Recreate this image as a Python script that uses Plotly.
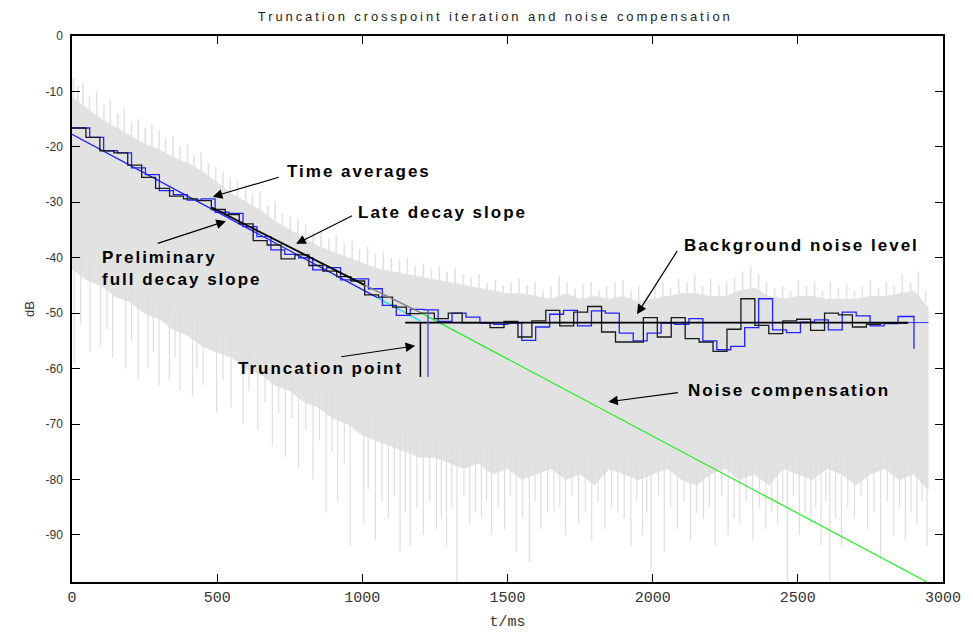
import plotly.graph_objects as go

# ---------------- data ----------------
# light-grey raw decay signal: dense body on a 50 ms grid
noise_t = [0, 50, 100, 150, 200, 250, 300, 350, 400, 450,
           500, 550, 600, 650, 700, 750, 800, 850, 900, 950,
           1000, 1050, 1100, 1150, 1200, 1250, 1300, 1350, 1400, 1450,
           1500, 1550, 1600, 1650, 1700, 1750, 1800, 1850, 1900, 1950,
           2000, 2050, 2100, 2150, 2200, 2250, 2300, 2350, 2400, 2450,
           2500, 2550, 2600, 2650, 2700, 2750, 2800, 2850, 2900, 2950]
noise_top_db = [-11, -13, -15, -16.5, -18, -19.5, -20.5, -22, -23, -24.5,
                -26.5, -28.5, -30, -31.5, -33.5, -35, -36.5, -38, -39, -40,
                -41, -42, -42.5, -43, -43.5, -44, -44.5, -45, -45.5, -46,
                -46.5, -46.5, -47, -47.5, -46.5, -47.5, -47, -47.5, -47, -48,
                -47.5, -47, -46.5, -46.5, -47, -47, -46, -45.5, -47, -47.5,
                -47, -47, -47.5, -47.5, -47.5, -47, -47, -46.5, -46, -49]
noise_bottom_db = [-42, -44, -45, -47, -48, -50, -51, -53, -54, -56,
                   -57, -58, -60, -61, -63, -64, -66, -67, -69, -70,
                   -72, -73, -74, -75, -76, -76, -77, -78, -77, -79,
                   -78, -80, -79, -78, -80, -79, -81, -78, -79, -80,
                   -79, -78, -80, -81, -79, -78, -80, -79, -81, -78,
                   -79, -80, -78, -79, -81, -79, -78, -80, -79, -82]
# upward peaks of the raw signal
peak_t = [5, 20, 38, 60, 85, 110, 132, 158, 180, 205, 228, 252, 275, 300, 322, 348, 372, 398,
          420, 445, 470, 495, 520, 545, 570, 598, 622, 648, 675, 700, 725, 752, 778, 805,
          830, 858, 885, 910, 938, 965, 990, 1018, 1045, 1072, 1100, 1128, 1155, 1182, 1210,
          1238, 1265, 1292, 1320, 1348, 1375, 1402, 1430, 1458, 1485, 1512, 1540, 1568, 1595,
          1622, 1650, 1678, 1705, 1732, 1760, 1788, 1815, 1842, 1870, 1898, 1925, 1952, 1980,
          2008, 2035, 2062, 2090, 2118, 2145, 2172, 2200, 2228, 2255, 2282, 2310, 2338, 2365,
          2392, 2420, 2448, 2475, 2502, 2530, 2558, 2585, 2612, 2640, 2668, 2695, 2722, 2750,
          2778, 2805, 2832, 2860, 2888, 2915, 2940]
peak_db = [-7.5, -9, -8.5, -11, -10, -12.5, -11.5, -14, -13, -15.5, -15, -16.5, -16, -17, -18.5,
           -18, -20, -19.5, -21.5, -21, -23, -23.5, -24.5, -25.5, -26, -27, -28.5, -28, -30.5,
           -30, -32, -32.5, -33, -34, -35.5, -35, -36.5, -36, -37.5, -37, -38.5, -38, -39.5,
           -39, -40, -40.5, -40, -41.5, -41, -42, -41.5, -42.5, -42, -43, -43.5, -43, -44.5,
           -44, -45, -44.5, -43.8, -45, -44.3, -46, -45.2, -43.4, -44.5, -45.5, -44.8, -44.3,
           -46, -45.2, -44.5, -44, -46, -45.2, -46.5, -45.2, -44.3, -45.5, -43.8, -44.5, -43,
           -45, -43.8, -45, -44.3, -43.5, -42.5, -41.6, -43, -44.3, -45.5, -45.2, -46, -44,
           -45, -44.3, -46, -44.3, -45.5, -44.8, -46, -45.2, -44, -45.5, -44.3, -45, -43,
           -44.5, -42.5, -46]
# deep downward dips of the raw signal
dip_t = [8, 30, 62, 98, 140, 185, 228, 262, 300, 335,
         372, 415, 452, 498, 548, 590, 640, 690, 735, 780,
         830, 875, 915, 958, 1005, 1045, 1090, 1130, 1165, 1210,
         1255, 1290, 1326, 1370, 1410, 1445, 1490, 1530, 1575, 1615,
         1660, 1700, 1745, 1790, 1835, 1880, 1925, 1965, 1995, 2040,
         2085, 2130, 2175, 2215, 2260, 2300, 2345, 2390, 2430, 2464,
         2505, 2545, 2580, 2610, 2650, 2695, 2740, 2785, 2830, 2870,
         2910, 2945]
dip_db = [-59, -52, -57, -56, -58, -60, -62, -60, -63, -62,
          -64, -65, -63, -68, -67, -70, -71, -74, -76, -78,
          -80, -86, -84, -92, -88, -91, -87, -93, -92, -90,
          -89, -92, -98.5, -88, -87, -90, -89, -93, -95, -89,
          -86, -90, -88, -91, -89, -86, -92, -90, -96, -93,
          -89, -91, -87, -92, -90, -88, -91, -89, -88, -98.5,
          -90, -88, -92, -98.5, -92, -87, -89, -94, -90, -91,
          -88, -92]
# shorter dips in between
dip2_t = [120, 205, 280, 355, 430, 520, 610, 665, 712, 758, 805, 852, 895, 938,
          1020, 1068, 1110, 1148, 1188, 1232, 1272, 1308, 1350, 1390,
          1428, 1468, 1510, 1552, 1595, 1638, 1680, 1722, 1768, 1812,
          1858, 1902, 1945, 1980, 2020, 2062, 2108, 2152, 2195, 2238,
          2280, 2322, 2368, 2410, 2448, 2485, 2525, 2562, 2596, 2630,
          2672, 2718, 2762, 2808, 2850, 2890, 2928]
dip2_db = [-53, -55, -57, -58, -60, -62, -64, -66, -68, -69, -71, -73, -75, -77,
           -82, -84, -83, -86, -85, -84, -87, -85, -83, -86,
           -84, -85, -83, -87, -84, -86, -85, -83, -86, -84,
           -85, -87, -84, -86, -83, -85, -84, -86, -85, -83,
           -87, -84, -85, -86, -84, -83, -86, -85, -84, -87,
           -85, -83, -86, -84, -85, -86, -84]

# time averages (black): bin edges [ms] and levels [dB]
black_edges = [0, 48, 96, 144, 192, 240, 288, 336, 384, 432,
               480, 528, 576, 624, 672, 720, 768, 816, 864, 912,
               960, 1008, 1056, 1104, 1152, 1200, 1248, 1296, 1344, 1392,
               1440, 1488, 1536, 1584, 1632, 1680, 1728, 1776, 1824, 1872,
               1920, 1968, 2016, 2064, 2112, 2160, 2208, 2256, 2304, 2352,
               2400, 2448, 2496, 2544, 2592, 2640, 2688, 2736, 2784, 2832, 2880]
black_db = [-16.6, -18.3, -20.7, -21.1, -23.3, -25.5, -27.5, -28.9, -29.4, -29.7,
            -31.3, -32.2, -33.9, -36.9, -37.7, -40.2, -39.5, -41.4, -42.4, -43.4,
            -44.2, -46.7, -47.1, -48.9, -50.1, -50.0, -51.0, -50.0, -51.7, -51.7,
            -52.6, -51.5, -54.3, -51.4, -49.5, -52.3, -49.8, -48.8, -53.4, -55.2,
            -55.2, -50.8, -54.3, -50.8, -54.6, -55.2, -56.9, -52.9, -47.4, -52.2,
            -53.7, -51.4, -51.1, -53.1, -50.0, -50.3, -52.5, -52.0, -51.8, -51.8]
# time averages (blue)
blue_edges = [0, 61, 109, 157, 205, 253, 301, 349, 397, 445,
              493, 541, 589, 637, 685, 733, 781, 829, 877, 925,
              973, 1021, 1069, 1117, 1165, 1213, 1261, 1309, 1357, 1405,
              1453, 1501, 1549, 1597, 1645, 1693, 1741, 1789, 1837, 1885,
              1933, 1981, 2029, 2077, 2125, 2173, 2221, 2269, 2317, 2365,
              2413, 2461, 2509, 2557, 2605, 2653, 2701, 2749, 2797, 2845, 2900]
blue_db = [-16.6, -18.3, -20.7, -21.1, -23.8, -25.0, -27.9, -28.6, -29.6, -29.4,
           -31.8, -32.0, -34.4, -36.2, -38.6, -39.4, -40.0, -42.2, -41.8, -44.0,
           -43.8, -45.6, -48.6, -50.4, -49.3, -49.4, -51.5, -50.0, -50.7, -51.8,
           -52.0, -51.8, -54.9, -52.5, -50.2, -49.5, -52.3, -49.6, -50.0, -53.6,
           -55.0, -53.6, -51.8, -52.0, -51.0, -55.0, -56.6, -56.0, -52.6, -47.4,
           -53.0, -53.5, -51.6, -51.2, -53.0, -49.8, -50.5, -52.3, -51.9, -50.6]
blue_end_drop_db = -56.4

# regression lines
prelim_t = [0, 1052, 1200]          # preliminary full decay slope (blue -> cyan)
prelim_db = [-17.75, -47.2, -51.4]
late_t = [482, 1007, 1200]          # late decay slope (black -> grey)
late_db = [-30.95, -44.9, -49.9]
comp_t = [1200, 2945]               # noise compensation (green)
comp_db = [-49.9, -98.5]

# background noise level and truncation point
noise_level_db = -51.7
noise_level_black_t = [1148, 2880]
noise_level_blue_t = [1148, 2950]
trunc_black_t = 1200
trunc_blue_t = 1226
trunc_blue_top_db = -49.4
trunc_bottom_db = -61.5

x_ticks = [0, 500, 1000, 1500, 2000, 2500, 3000]
y_ticks = [0, -10, -20, -30, -40, -50, -60, -70, -80, -90]

# ---------------- figure ----------------
GREY = "rgb(226,226,226)"
fig = go.Figure()

# grey raw signal: dense body
fig.add_trace(go.Scatter(x=noise_t, y=noise_top_db, mode="lines",
                         line=dict(color=GREY, width=1), hoverinfo="skip"))
fig.add_trace(go.Scatter(x=noise_t, y=noise_bottom_db, mode="lines",
                         line=dict(color=GREY, width=1),
                         fill="tonexty", fillcolor=GREY, hoverinfo="skip"))
# peaks and dips
px_, py_ = [], []
for t, d in zip(peak_t, peak_db):
    i = min(int(t // 50), len(noise_top_db) - 1)
    px_ += [t, t, None]
    py_ += [noise_top_db[i] - 2, d, None]
fig.add_trace(go.Scatter(x=px_, y=py_, mode="lines",
                         line=dict(color=GREY, width=1.6), hoverinfo="skip"))
dx_, dy_ = [], []
for t, d in list(zip(dip_t, dip_db)) + list(zip(dip2_t, dip2_db)):
    i = min(int(t // 50), len(noise_bottom_db) - 1)
    dx_ += [t, t, None]
    dy_ += [noise_bottom_db[i] + 3, d, None]
fig.add_trace(go.Scatter(x=dx_, y=dy_, mode="lines",
                         line=dict(color="rgb(222,222,222)", width=1.2), hoverinfo="skip"))

# slopes
fig.add_trace(go.Scatter(x=prelim_t[:2], y=prelim_db[:2], mode="lines",
                         line=dict(color="#1a1aff", width=1.2)))
fig.add_trace(go.Scatter(x=prelim_t[1:], y=prelim_db[1:], mode="lines",
                         line=dict(color="#00e0ff", width=1.2)))
fig.add_trace(go.Scatter(x=comp_t, y=comp_db, mode="lines",
                         line=dict(color="#22ee22", width=1.2)))

# time averages
fig.add_trace(go.Scatter(x=blue_edges + [blue_edges[-1]],
                         y=blue_db + [blue_db[-1], blue_end_drop_db],
                         mode="lines", line=dict(color="#2222ff", width=1.3, shape="hv")))
fig.add_trace(go.Scatter(x=black_edges, y=black_db + [black_db[-1]],
                         mode="lines", line=dict(color="#1a1a1a", width=1.3, shape="hv")))

# late decay slope
fig.add_trace(go.Scatter(x=late_t[:2], y=late_db[:2], mode="lines",
                         line=dict(color="black", width=1.8)))
fig.add_trace(go.Scatter(x=late_t[1:], y=late_db[1:], mode="lines",
                         line=dict(color="#808080", width=1.6)))

# background noise level
fig.add_trace(go.Scatter(x=noise_level_blue_t, y=[noise_level_db] * 2, mode="lines",
                         line=dict(color="#3333ff", width=1)))
fig.add_trace(go.Scatter(x=noise_level_black_t, y=[noise_level_db] * 2, mode="lines",
                         line=dict(color="black", width=1.6)))

# truncation point markers
fig.add_trace(go.Scatter(x=[trunc_black_t, trunc_black_t], y=[noise_level_db, trunc_bottom_db],
                         mode="lines", line=dict(color="black", width=1.5)))
fig.add_trace(go.Scatter(x=[trunc_blue_t, trunc_blue_t], y=[trunc_blue_top_db, trunc_bottom_db],
                         mode="lines", line=dict(color="#5555ff", width=1.5)))

# annotations
lbl_font = dict(family="Liberation Sans, Arial, sans-serif", size=17, color="black")


def sp(txt):
    return '<span style="letter-spacing:2px"><b>' + txt + '</b></span>'


labels = [
    ("Time averages", 735, -24.4),
    ("Late decay slope", 978, -31.9),
    ("Preliminary<br>full decay slope", 96, -42.0),
    ("Background noise level", 2100, -37.8),
    ("Truncation point", 564, -59.9),
    ("Noise compensation", 2114, -63.9),
]
for txt, x, y in labels:
    parts = txt.split("<br>")
    fig.add_annotation(x=x, y=y, xref="x", yref="y", text="<br>".join(sp(p) for p in parts),
                       showarrow=False, xanchor="left", yanchor="middle", align="left",
                       font=lbl_font)

arrows = [  # (tip_t, tip_db, tail_t, tail_db)
    (485, -29.0, 717, -25.4),
    (772, -37.5, 970, -32.3),
    (530, -33.4, 290, -37.5),
    (1946, -50.2, 2088, -38.5),
    (1182, -55.9, 922, -57.9),
    (1847, -66.0, 2092, -64.3),
]
for tx, ty, ax, ay in arrows:
    fig.add_annotation(x=tx, y=ty, ax=ax, ay=ay, xref="x", yref="y", axref="x", ayref="y",
                       text="", showarrow=True, arrowhead=2, arrowsize=1.6,
                       arrowwidth=1.2, arrowcolor="black", standoff=0)

fig.update_layout(
    width=973, height=639,
    margin=dict(l=72, r=23, t=36, b=50),
    plot_bgcolor="white", paper_bgcolor="white",
    showlegend=False,
    title=dict(text='<span style="letter-spacing:2.9px">Truncation crosspoint iteration and noise compensation</span>',
               x=0.509, xanchor="center", xref="container",
               y=1 - 16 / 639, yanchor="middle", yref="container",
               font=dict(family="Liberation Sans, Arial, sans-serif", size=13, color="#222")),
)
fig.update_xaxes(range=[0, 3000], tickvals=x_ticks, ticktext=[str(v) for v in x_ticks],
                 ticks="inside", ticklen=8, tickwidth=1, tickcolor="black",
                 showline=True, linecolor="black", linewidth=1.5, mirror="ticks",
                 showgrid=False, zeroline=False,
                 tickfont=dict(family="Liberation Mono, monospace", size=15, color="#333"),
                 title=dict(text="t/ms", standoff=10,
                            font=dict(family="Liberation Mono, monospace", size=15, color="#333")))
fig.update_yaxes(range=[-98.5, 0], tickvals=y_ticks, ticktext=[str(v) for v in y_ticks],
                 ticks="inside", ticklen=8, tickwidth=1, tickcolor="black",
                 showline=True, linecolor="black", linewidth=1.5, mirror="ticks",
                 showgrid=False, zeroline=False, ticklabelstandoff=5,
                 tickfont=dict(family="Liberation Sans, Arial, sans-serif", size=12, color="#333"),
                 title=dict(text="dB", standoff=8,
                            font=dict(family="Liberation Sans, Arial, sans-serif", size=13, color="#333")))

fig.write_html("out.html")
